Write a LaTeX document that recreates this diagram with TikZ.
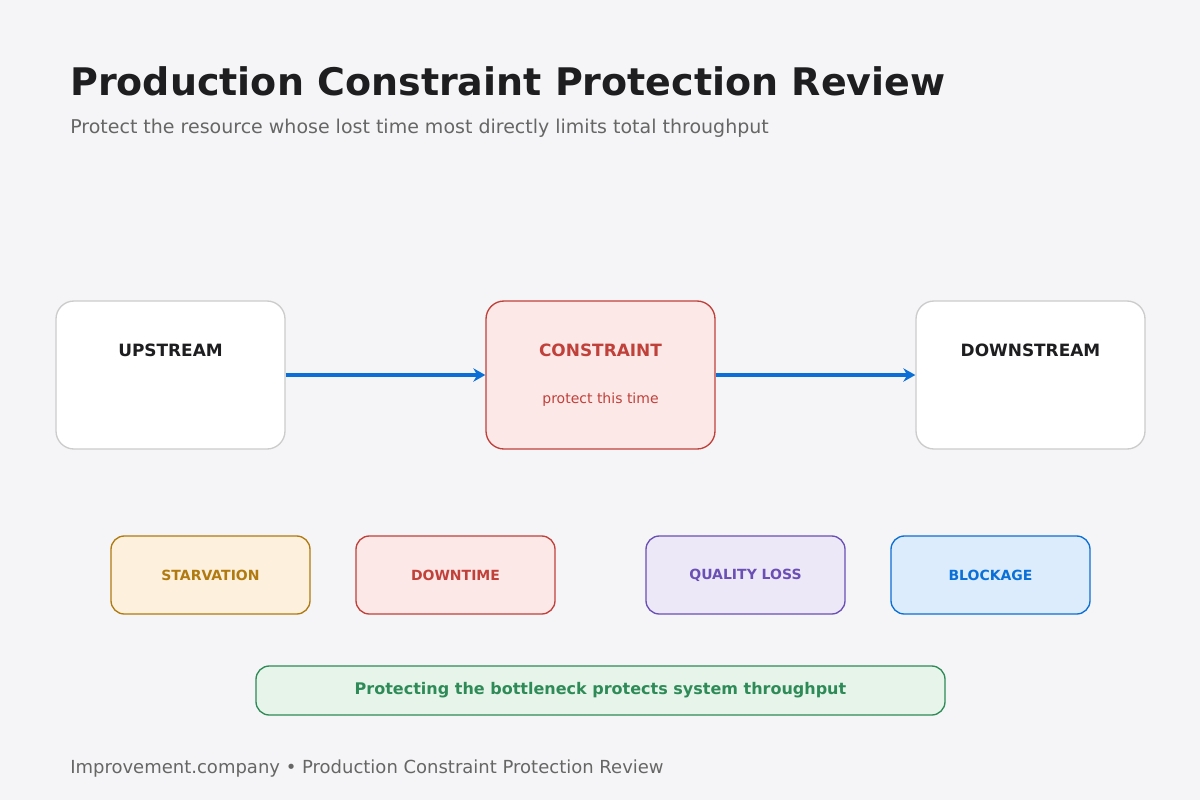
\documentclass[tikz,border=0pt]{standalone}
\usepackage{fontspec}
\setmainfont{DejaVu Sans}
\usetikzlibrary{arrows.meta}
\definecolor{bg}{HTML}{F5F5F7}
\definecolor{ink}{HTML}{1E1E20}
\definecolor{sub}{HTML}{666666}
\definecolor{gbord}{HTML}{CCCCCC}
\definecolor{arr}{HTML}{0A6FD6}
\definecolor{rfill}{HTML}{FDE8E8}\definecolor{rline}{HTML}{C0403A}
\definecolor{ofill}{HTML}{FDF0DC}\definecolor{oline}{HTML}{B07A10}
\definecolor{pfill}{HTML}{EDE8F8}\definecolor{pline}{HTML}{6A4FB5}
\definecolor{bfill}{HTML}{DCECFC}\definecolor{bline}{HTML}{0A6FD6}
\definecolor{gfill}{HTML}{E6F4EA}\definecolor{gline}{HTML}{2E8B57}
\begin{document}
\begin{tikzpicture}[x=0.75pt,y=-0.75pt,
 big/.style={draw=gbord,fill=white,rounded corners=13.5pt,line width=1pt,minimum width=171.75pt,minimum height=111pt,inner sep=0pt},
 small/.style={draw=#1line,fill=#1fill,text=#1line,rounded corners=10pt,line width=1pt,minimum width=149.25pt,minimum height=58.5pt,inner sep=0pt,font=\fontsize{10.5}{12}\selectfont\bfseries},
 lbl/.style={font=\fontsize{12.7}{14}\selectfont\bfseries,text=ink},
 txt/.style={anchor=base west,inner sep=0pt,text=sub},
 flow/.style={arr,line width=3pt,-{Stealth[length=9pt,width=10pt]}}]
\fill[bg] (0,0) rectangle (1200,800);
\useasboundingbox (0,0) rectangle (1200,800);
\node[txt,font=\fontsize{28.5}{34}\selectfont\bfseries,text=ink] (title) at (70,95) {Production Constraint Protection Review};
\node[txt,font=\fontsize{14.25}{16}\selectfont] (subt) at (70,133) {Protect the resource whose lost time most directly limits total throughput};
\node[big] (up) at (170.5,375) {};
\node[big,draw=rline,fill=rfill] (con) at (600.5,375) {};
\node[big] (down) at (1030.5,375) {};
\node[lbl] (uplbl) at (170.5,350) {UPSTREAM};
\node[lbl,text=rline] (conlbl) at (600.5,350) {CONSTRAINT};
\node[font=\fontsize{10.5}{12}\selectfont,text=rline] (conbody) at (600.5,400) {protect this time};
\node[lbl] (downlbl) at (1030.5,350) {DOWNSTREAM};
\draw[flow] (up.east) -- (con.west);
\draw[flow] (con.east) -- (down.west);
\node[small=o] (s1) at (210.5,575) {STARVATION};
\node[small=r] (s2) at (455.5,575) {DOWNTIME};
\node[small=p] (s3) at (745.5,575) {QUALITY LOSS};
\node[small=b] (s4) at (990.5,575) {BLOCKAGE};
\node[draw=gline,fill=gfill,text=gline,rounded corners=10pt,line width=1pt,minimum width=516.75pt,minimum height=36.75pt,inner sep=0pt,font=\fontsize{12}{14}\selectfont\bfseries] (note) at (600.5,690.5) {Protecting the bottleneck protects system throughput};
\node[txt,font=\fontsize{13.5}{16}\selectfont] (foot) at (70,773) {Improvement.company • Production Constraint Protection Review};
\end{tikzpicture}
\end{document}
